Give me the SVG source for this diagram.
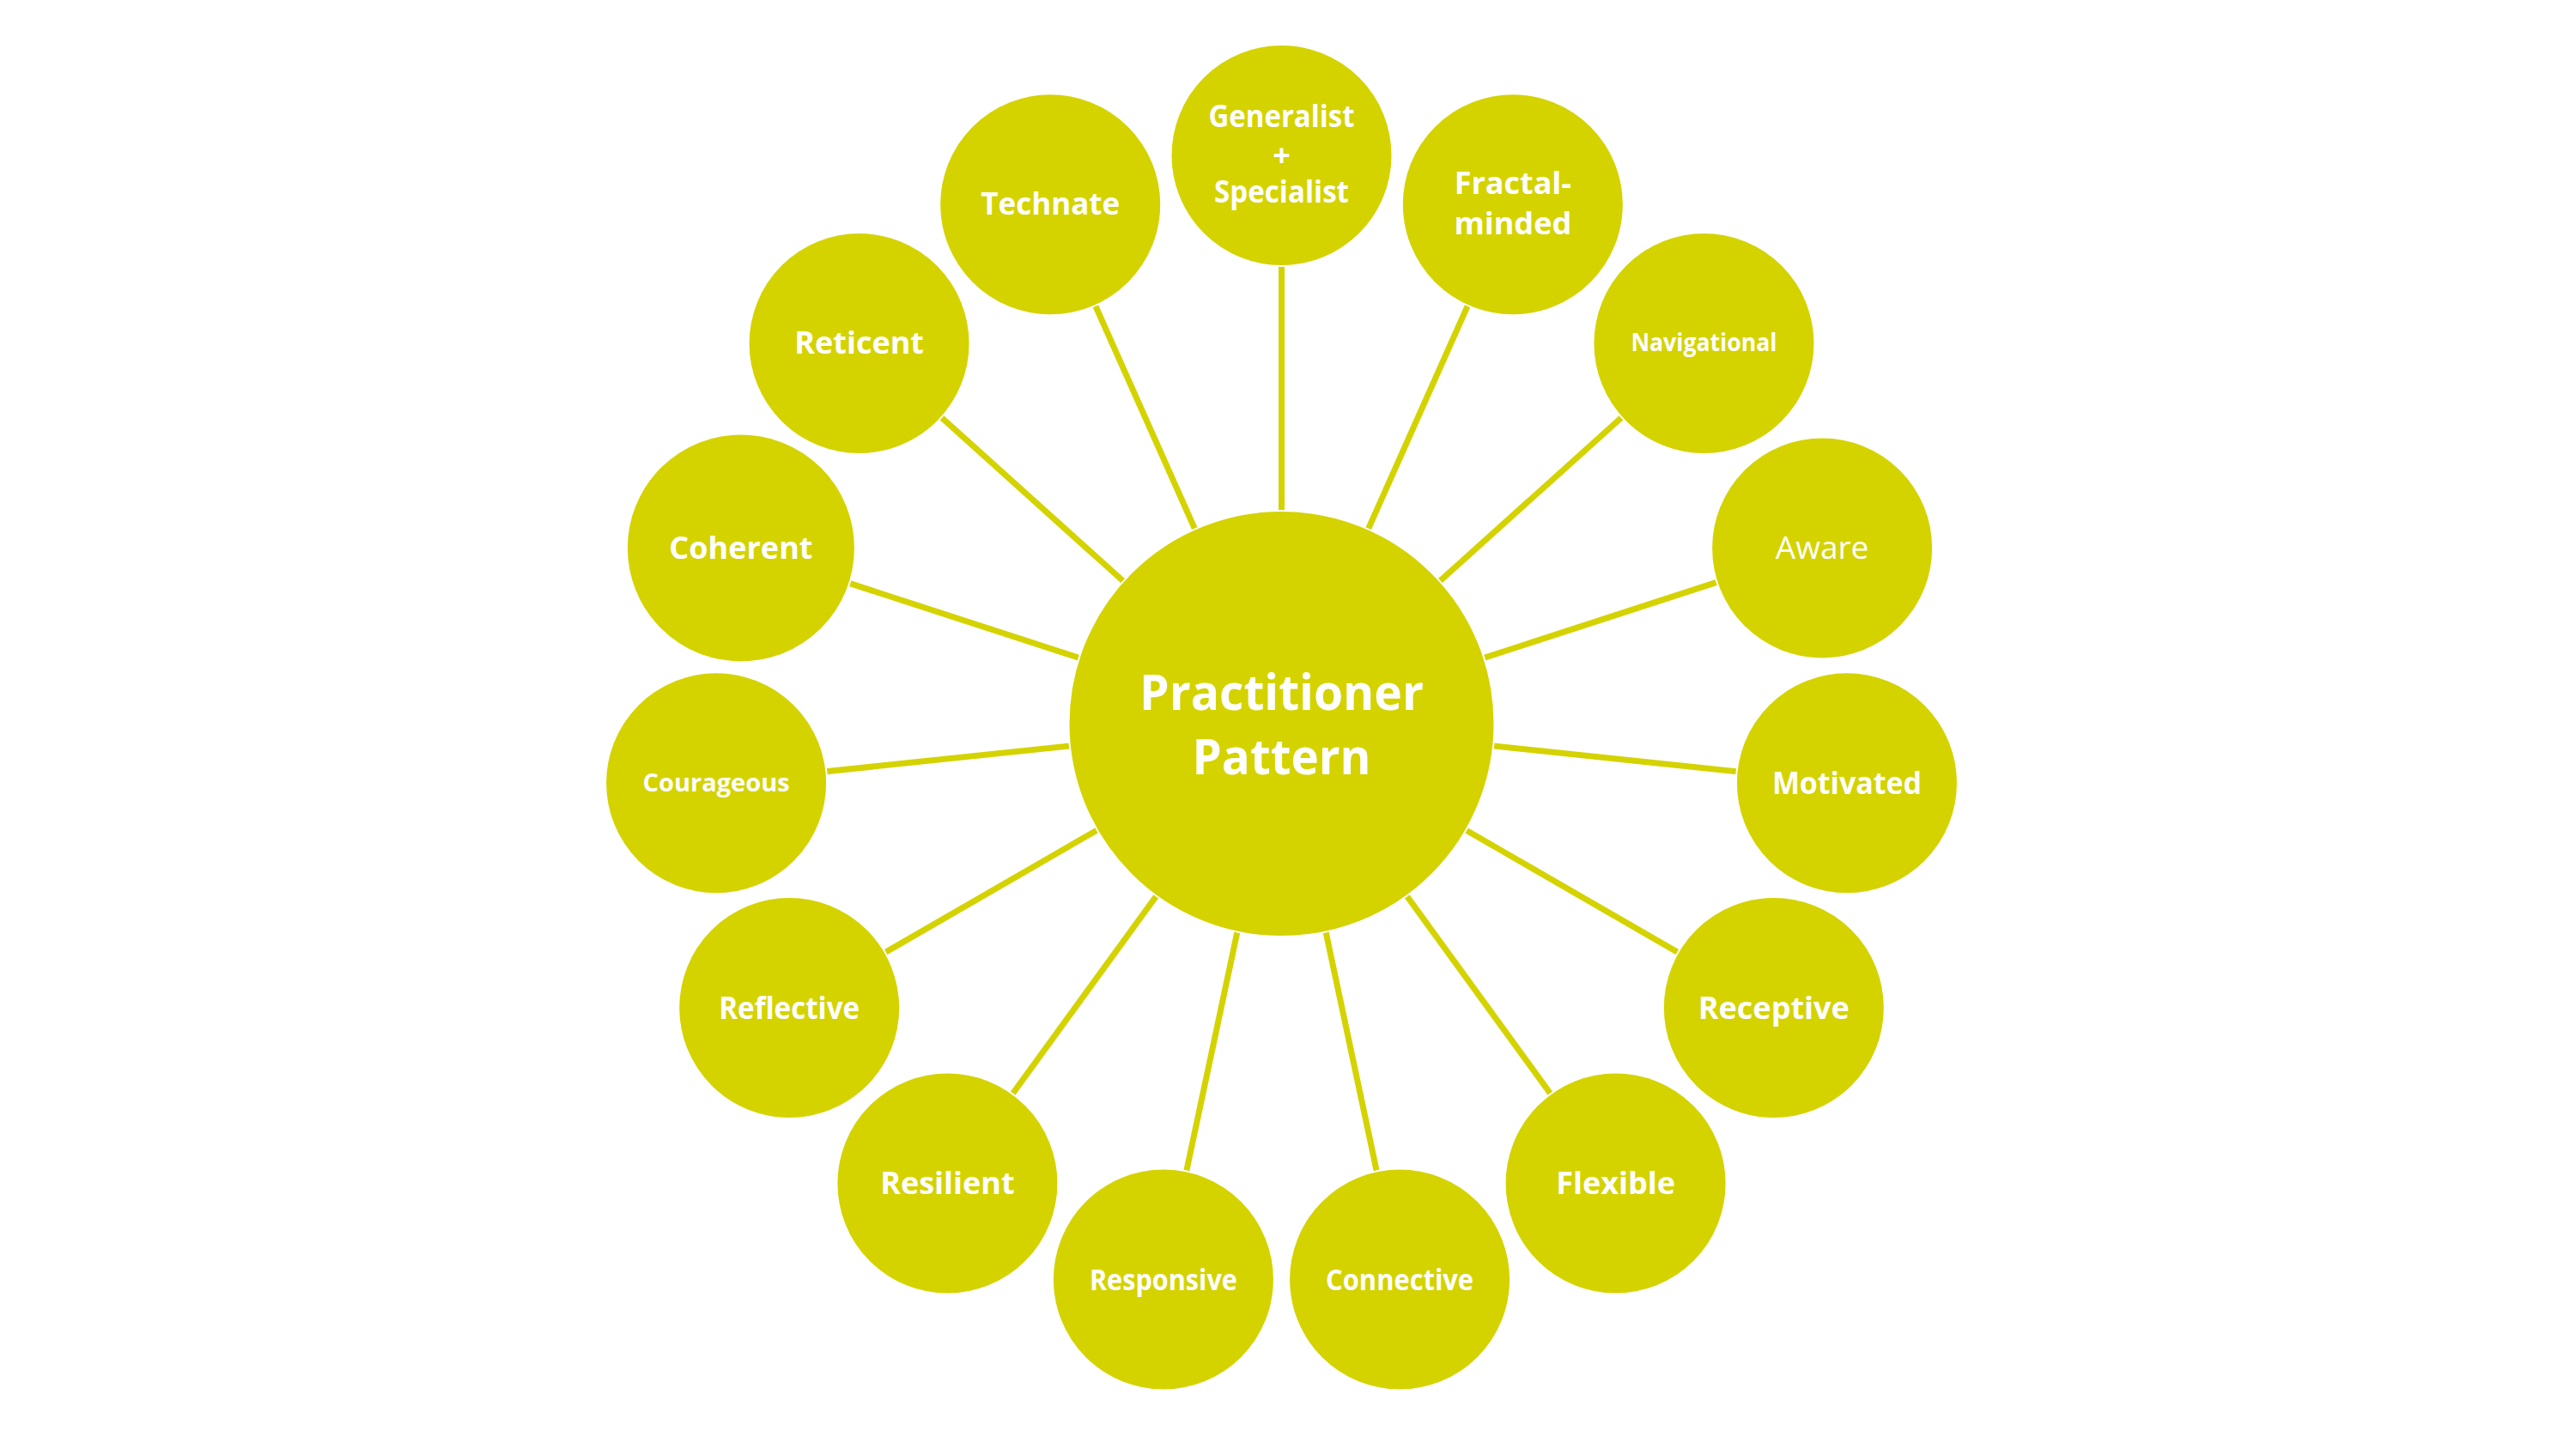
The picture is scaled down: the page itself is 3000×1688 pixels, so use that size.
<svg xmlns="http://www.w3.org/2000/svg" width="3000" height="1688" viewBox="0 0 3000 1688">
<style>
.bg{fill:#ffffff}
.node{fill:#D4D300;stroke:#ffffff;stroke-width:2}
.hub{fill:#D4D300;stroke:#ffffff;stroke-width:2}
.conn line{stroke:#D4D300;stroke-width:7}
text{fill:#ffffff;font-family:"Open Sans","Noto Sans","Liberation Sans",sans-serif;text-anchor:middle}
.lbl{font-size:36px;font-weight:bold}
.sm{font-size:29px;font-weight:bold}
.reg{font-size:37px;font-weight:normal}
.big{font-size:58px;font-weight:bold}
</style>
<rect class="bg" x="0" y="0" width="3000" height="1688"/>
<g id="connectors" class="conn">
<line x1="1492.5" y1="843" x2="1492.5" y2="181"/>
<line x1="1492.5" y1="843" x2="1761.8" y2="238.2"/>
<line x1="1492.5" y1="843" x2="1984.4" y2="400"/>
<line x1="1492.5" y1="843" x2="2122.1" y2="638.4"/>
<line x1="1492.5" y1="843" x2="2150.9" y2="912.2"/>
<line x1="1492.5" y1="843" x2="2065.8" y2="1174"/>
<line x1="1492.5" y1="843" x2="1881.6" y2="1378.6"/>
<line x1="1492.5" y1="843" x2="1630.1" y2="1490.5"/>
<line x1="1492.5" y1="843" x2="1354.9" y2="1490.5"/>
<line x1="1492.5" y1="843" x2="1103.4" y2="1378.6"/>
<line x1="1492.5" y1="843" x2="919.2" y2="1174"/>
<line x1="1492.5" y1="843" x2="834.1" y2="912.2"/>
<line x1="1492.5" y1="843" x2="862.9" y2="638.4"/>
<line x1="1492.5" y1="843" x2="1000.6" y2="400"/>
<line x1="1492.5" y1="843" x2="1223.2" y2="238.2"/>
</g>
<g id="hub">
<circle class="hub" cx="1492.5" cy="843" r="248"/>
<text class="big"><tspan x="1492.5" y="827" textLength="331" lengthAdjust="spacingAndGlyphs">Practitioner</tspan><tspan x="1492.5" y="902" textLength="208" lengthAdjust="spacingAndGlyphs">Pattern</tspan></text>
</g>
<g id="generalist">
<circle class="node" cx="1492.5" cy="181" r="129"/>
<text class="lbl"><tspan x="1492.5" y="148" textLength="170" lengthAdjust="spacingAndGlyphs">Generalist</tspan><tspan x="1492.5" y="194">+</tspan><tspan x="1492.5" y="236" textLength="157" lengthAdjust="spacingAndGlyphs">Specialist</tspan></text>
</g>
<g id="fractal">
<circle class="node" cx="1761.8" cy="238.2" r="129"/>
<text class="lbl"><tspan x="1761.8" y="226">Fractal-</tspan><tspan x="1761.8" y="273">minded</tspan></text>
</g>
<g id="navigational">
<circle class="node" cx="1984.4" cy="400" r="129"/>
<text class="sm" x="1984.4" y="409" textLength="170" lengthAdjust="spacingAndGlyphs">Navigational</text>
</g>
<g id="aware">
<circle class="node" cx="2122.1" cy="638.4" r="129"/>
<text class="reg" x="2122.1" y="651">Aware</text>
</g>
<g id="motivated">
<circle class="node" cx="2150.9" cy="912.2" r="129"/>
<text class="lbl" x="2150.9" y="925" textLength="174" lengthAdjust="spacingAndGlyphs">Motivated</text>
</g>
<g id="receptive">
<circle class="node" cx="2065.8" cy="1174" r="129"/>
<text class="lbl" x="2065.8" y="1187">Receptive</text>
</g>
<g id="flexible">
<circle class="node" cx="1881.6" cy="1378.6" r="129"/>
<text class="lbl" x="1881.6" y="1391">Flexible</text>
</g>
<g id="connective">
<circle class="node" cx="1630.1" cy="1490.5" r="129"/>
<text class="lbl" x="1630.1" y="1503" style="font-size:34px" textLength="172" lengthAdjust="spacingAndGlyphs">Connective</text>
</g>
<g id="responsive">
<circle class="node" cx="1354.9" cy="1490.5" r="129"/>
<text class="lbl" x="1354.9" y="1503" style="font-size:34px" textLength="172" lengthAdjust="spacingAndGlyphs">Responsive</text>
</g>
<g id="resilient">
<circle class="node" cx="1103.4" cy="1378.6" r="129"/>
<text class="lbl" x="1103.4" y="1391">Resilient</text>
</g>
<g id="reflective">
<circle class="node" cx="919.2" cy="1174" r="129"/>
<text class="lbl" x="919.2" y="1187" textLength="164" lengthAdjust="spacingAndGlyphs">Reflective</text>
</g>
<g id="courageous">
<circle class="node" cx="834.1" cy="912.2" r="129"/>
<text class="sm" x="834.1" y="922">Courageous</text>
</g>
<g id="coherent">
<circle class="node" cx="862.9" cy="638.4" r="133"/>
<text class="lbl" x="862.9" y="651">Coherent</text>
</g>
<g id="reticent">
<circle class="node" cx="1000.6" cy="400" r="129"/>
<text class="lbl" x="1000.6" y="412">Reticent</text>
</g>
<g id="technate">
<circle class="node" cx="1223.2" cy="238.2" r="129"/>
<text class="lbl" x="1223.2" y="250" textLength="162" lengthAdjust="spacingAndGlyphs">Technate</text>
</g>
</svg>
